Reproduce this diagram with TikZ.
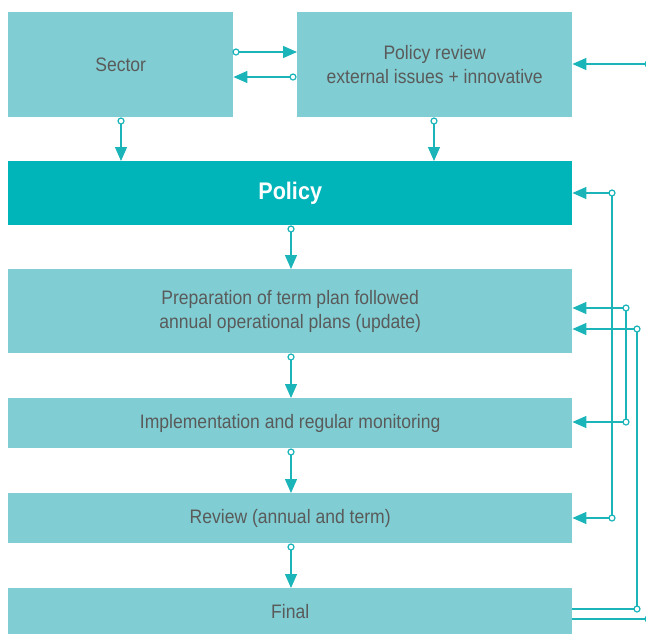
\documentclass[tikz,border=0pt]{standalone}
\usepackage{fontspec}
\setmainfont{Liberation Sans}[FakeStretch=0.9]
\usetikzlibrary{arrows.meta}
\definecolor{lightbox}{HTML}{80CED3}
\definecolor{darkbox}{HTML}{00B5BA}
\definecolor{linec}{HTML}{1AB4B9}
\definecolor{txt}{HTML}{5A5A5A}
\tikzset{
  box/.style={fill=lightbox, draw=none, inner sep=0pt, anchor=north west, text=txt, align=center,
    font=\fontsize{19.5}{24}\selectfont},
  darkb/.style={box, fill=darkbox, text=white, font=\fontsize{24}{28}\selectfont\bfseries},
  link/.style={draw=linec, line width=1.3pt, -{Triangle[length=14pt,width=12pt]}},
  plain/.style={draw=linec, line width=1.3pt},
  dot/.style={circle, draw=linec, fill=white, line width=1.2pt, minimum size=6pt, inner sep=0pt}
}
\begin{document}
\begin{tikzpicture}[x=1pt,y=-1pt]
\useasboundingbox (0,0) rectangle (646,633);
% boxes
\node[box, minimum width=225pt, minimum height=105pt] (sector) at (8,12) {Sector};
\node[box, minimum width=275pt, minimum height=105pt] (review0) at (297,12) {Policy review\\external issues + innovative};
\node[darkb, minimum width=564pt, minimum height=64pt] (policy) at (8,161) {Policy};
\node[box, minimum width=564pt, minimum height=84pt] (prep) at (8,269) {Preparation of term plan followed\\ annual operational plans (update)};
\node[box, minimum width=564pt, minimum height=50pt] (impl) at (8,398) {Implementation and regular monitoring};
\node[box, minimum width=564pt, minimum height=50pt] (rev) at (8,493) {Review (annual and term)};
\node[box, minimum width=564pt, minimum height=47pt] (final) at (8,588) {Final};
% connector points
\coordinate (s1) at (236,52);
\coordinate (r1) at (293,77);
\coordinate (s2) at (121,121);
\coordinate (r2) at (434,121);
\coordinate (p1) at (291,229);
\coordinate (p2) at (291,357);
\coordinate (p3) at (291,452);
\coordinate (p4) at (291,547);
\coordinate (ext) at (648,64);
\coordinate (a1) at (612,193);
\coordinate (a2) at (612,518);
\coordinate (b1) at (626,308);
\coordinate (b2) at (626,422);
\coordinate (c1) at (637,329);
\coordinate (c2) at (637,609);
\coordinate (e2) at (648,619);
% connectors
\draw[link] (s1) -- (s1 -| review0.west);
\draw[link] (r1) -- (r1 -| sector.east);
\draw[link] (s2) -- (s2 |- policy.north);
\draw[link] (r2) -- (r2 |- policy.north);
\draw[link] (p1) -- (p1 |- prep.north);
\draw[link] (p2) -- (p2 |- impl.north);
\draw[link] (p3) -- (p3 |- rev.north);
\draw[link] (p4) -- (p4 |- final.north);
\draw[link] (ext) -- (ext -| review0.east);
\draw[plain] (a1) -- (a2);
\draw[plain] (b1) -- (b2);
\draw[plain] (c1) -- (c2);
\draw[link] (a1) -- (a1 -| policy.east);
\draw[link] (a2) -- (a2 -| rev.east);
\draw[link] (b1) -- (b1 -| prep.east);
\draw[link] (b2) -- (b2 -| impl.east);
\draw[link] (c1) -- (c1 -| prep.east);
\draw[plain] (c2 -| final.east) -- (c2);
\draw[plain] (e2 -| final.east) -- (e2);
% circles
\foreach \c in {s1,r1,s2,r2,p1,p2,p3,p4,ext,a1,a2,b1,b2,c1,c2,e2}
  \node[dot] at (\c) {};
\end{tikzpicture}
\end{document}
